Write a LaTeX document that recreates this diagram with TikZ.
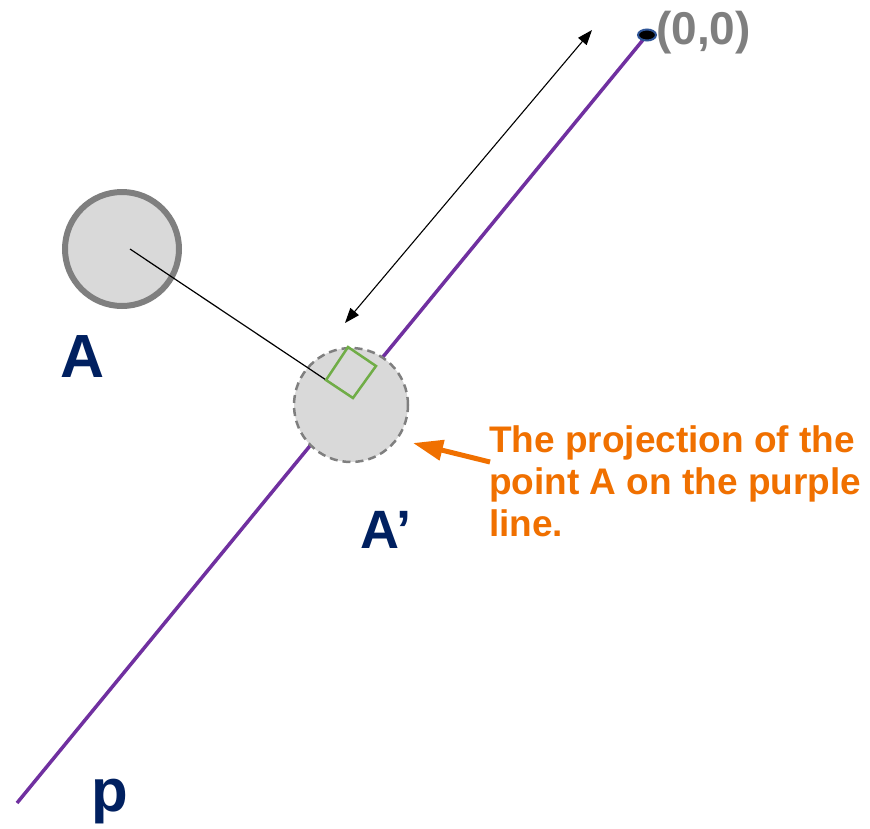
\documentclass[tikz,border=0pt]{standalone}
\usepackage{fontspec}
\setmainfont{Liberation Sans}
\usetikzlibrary{arrows.meta,positioning,shapes.geometric}
\definecolor{navy}{HTML}{002060}
\definecolor{purpleline}{HTML}{7030A0}
\definecolor{calloutorange}{HTML}{F07000}
\definecolor{ringgray}{HTML}{7F7F7F}
\definecolor{fillgray}{HTML}{D9D9D9}
\definecolor{squaregreen}{HTML}{70AD47}
\definecolor{dotblue}{HTML}{2F5597}

\begin{document}
\begin{tikzpicture}[
  x=1pt,y=-1pt,
  font=\bfseries,
  point/.style={circle,fill=fillgray,draw=ringgray,minimum size=114pt,inner sep=0pt},
  ptlabel/.style={text=navy,inner sep=0pt},
  arrow/.style={{Triangle[length=15pt,width=11pt]}-{Triangle[length=15pt,width=11pt]},line width=1.1pt},
  callout/.style={-{Triangle[length=30pt,width=20pt]},line width=5pt,draw=calloutorange},
  rightangle/.style={draw=squaregreen,line width=2.5pt,line join=miter}
]
\useasboundingbox (0,0) rectangle (870,828);

\coordinate (O) at (647,35);
\coordinate (pend) at (17,803);
\draw[purpleline,line width=3.5pt] (pend) -- (O);
\node[ellipse,fill=black,draw=dotblue,line width=2pt,minimum width=18pt,minimum height=11pt,inner sep=0pt] (dot) at (O) {};

\node[point,line width=6pt] (A) at (122,249) {};
\node[point,line width=2.5pt,dashed,dash pattern=on 8pt off 5pt] (Aproj) at (351,405) {};

\coordinate (Astart) at (130,249);
\coordinate (foot) at (353,398);
\draw[black,line width=1.2pt] (Astart) -- (foot);
\draw[rightangle] (foot) -- (326,380) -- (348,347) -- (376,366) -- cycle;

\coordinate (dtop) at (592,30);
\coordinate (dbot) at (345,323);
\draw[arrow] (dbot) -- (dtop);

\node[ptlabel,font=\bfseries\fontsize{61}{61}\selectfont,anchor=base] (Alabel) at (83,377) {A};
\node[ptlabel,font=\bfseries\fontsize{54}{54}\selectfont,anchor=base west] (Aplabel) at (360,548) {A’};
\node[ptlabel,font=\bfseries\fontsize{60}{60}\selectfont,anchor=base west] (plabel) at (91,811) {p};
\node[text=ringgray,inner sep=0pt,font=\bfseries\fontsize{46}{46}\selectfont,anchor=base west] (origin) at (656,44) {(0,0)};

\node[text=calloutorange,inner sep=0pt,align=left,anchor=north west,
      font=\bfseries\fontsize{37}{42}\selectfont] (note) at (489,425)
 {The projection of the\\point A on the purple\\line.};
\coordinate (tail) at (490,462);
\coordinate (tip) at (413,443);
\draw[callout] (tail) -- (tip);
\end{tikzpicture}
\end{document}
